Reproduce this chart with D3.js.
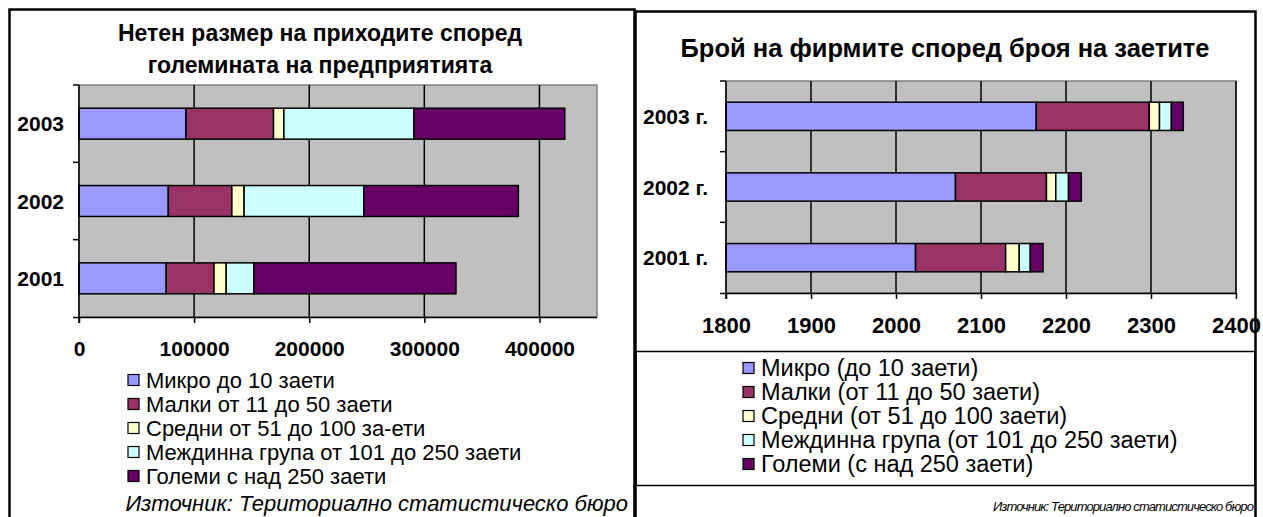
<!DOCTYPE html>
<html>
<head>
<meta charset="utf-8">
<script src="https://cdn.jsdelivr.net/npm/d3@7"></script>
<style>
  body { margin: 0; background: #fff; }
  svg { display: block; font-family: "Liberation Sans", Arial, sans-serif; }
</style>
</head>
<body>
<svg id="chart" width="1263" height="517"></svg>
<script>
// ---- data ----
const years = ["2003", "2002", "2001"];
const colors = ["#9999FF", "#993366", "#FFFFCC", "#CCFFFF", "#660066"];

// left: net revenue by enterprise size
const revenueLegend = ["Микро до 10 заети", "Малки от 11 до 50 заети", "Средни от 51 до 100 за-ети",
  "Междинна група от 101 до 250 заети", "Големи с над 250 заети"];
const revMicro  = [93000, 77600, 75800];
const revSmall  = [76000, 55200, 41500];
const revMedium = [9000, 10600, 10600];
const revMiddle = [113000, 104100, 24000];
const revLarge  = [131000, 134200, 175600];
const revTicks = [0, 100000, 200000, 300000, 400000];

// right: number of firms by employees
const firmYears = ["2003 г.", "2002 г.", "2001 г."];
const firmLegend = ["Микро (до 10 заети)", "Малки (от 11 до 50 заети)", "Средни (от 51 до 100 заети)",
  "Междинна група (от 101 до 250 заети)", "Големи (с над 250 заети)"];
const firmMicro  = [2165, 2070, 2023];
const firmSmall  = [133, 107, 106];
const firmMedium = [12, 11, 16];
const firmMiddle = [14, 15, 13];
const firmLarge  = [14, 15, 15];
const firmTicks = [1800, 1900, 2000, 2100, 2200, 2300, 2400];

const svg = d3.select("#chart");

function stackRows(cats, series) {
  return cats.map((c, i) => {
    let acc = 0;
    return { cat: c, segs: series.map((s, k) => { const x0 = acc; acc += s[i]; return { k: k, x0: x0, x1: acc }; }) };
  });
}

function drawBars(g, opt) {
  const x = d3.scaleLinear().domain(opt.domain).range([opt.left, opt.right]);
  const y = d3.scaleBand().domain(opt.cats).range([opt.top, opt.bottom]).paddingInner(0.6).paddingOuter(0.3);
  const yb = d3.scaleBand().domain(opt.cats).range([opt.top, opt.bottom]);

  // plot area
  g.append("rect")
    .attr("x", opt.left).attr("y", opt.top)
    .attr("width", opt.right - opt.left).attr("height", opt.bottom - opt.top)
    .attr("fill", "#C0C0C0").attr("stroke", "#808080").attr("stroke-width", 1.5);

  // gridlines
  g.selectAll("line.grid").data(opt.ticks.slice(1)).enter().append("line")
    .attr("class", "grid")
    .attr("x1", d => x(d)).attr("x2", d => x(d))
    .attr("y1", opt.top).attr("y2", opt.bottom)
    .attr("stroke", "#000").attr("stroke-width", 1.5);

  const rows = stackRows(opt.cats, opt.series);
  const clipX = d => Math.max(x(d), opt.left);
  g.selectAll("g.row").data(rows).enter().append("g")
    .attr("class", "row")
    .selectAll("rect").data(d => d.segs.map(s => Object.assign({ cat: d.cat }, s))).enter().append("rect")
    .attr("x", d => clipX(d.x0))
    .attr("y", d => y(d.cat))
    .attr("width", d => clipX(d.x1) - clipX(d.x0))
    .attr("height", y.bandwidth())
    .attr("fill", d => colors[d.k])
    .attr("stroke", "#000").attr("stroke-width", 1.5);

  // x axis
  const xAxis = d3.axisBottom(x).tickValues(opt.ticks).tickSize(6).tickSizeOuter(0).tickPadding(opt.tickPad).tickFormat(d3.format("d"));
  const gx = g.append("g").attr("transform", `translate(0,${opt.bottom})`).call(xAxis);
  gx.select(".domain").attr("stroke", "#000").attr("stroke-width", 1.5).attr("d", `M${opt.left - 6},0.5H${opt.right}`);
  gx.selectAll(".tick line").attr("stroke", "#000").attr("stroke-width", 1.5);
  gx.selectAll(".tick text").attr("font-size", opt.tickSize).attr("font-weight", "bold").attr("fill", "#000")
    .attr("font-family", "'Liberation Sans', Arial, sans-serif");

  // y axis
  g.append("line").attr("x1", opt.left).attr("x2", opt.left).attr("y1", opt.top).attr("y2", opt.bottom + 6)
    .attr("stroke", "#000").attr("stroke-width", 1.5);
  g.selectAll("line.ytick").data(opt.cats).enter().append("line")
    .attr("x1", opt.left - 6).attr("x2", opt.left)
    .attr("y1", d => yb(d)).attr("y2", d => yb(d))
    .attr("stroke", "#000").attr("stroke-width", 1.5);
  g.selectAll("text.ylab").data(opt.cats).enter().append("text")
    .attr("x", opt.labelX).attr("y", d => y(d) + y.bandwidth() / 2)
    .attr("dy", "0.36em").attr("text-anchor", "end")
    .attr("font-size", opt.labelSize).attr("font-weight", "bold")
    .text(d => d);
}

function drawLegend(g, labels, lx, ly, step, fs) {
  const item = g.selectAll("g.leg").data(labels).enter().append("g")
    .attr("transform", (d, i) => `translate(${lx},${ly + i * step})`);
  item.append("rect").attr("x", 0).attr("y", -5.5).attr("width", 11).attr("height", 11)
    .attr("fill", (d, i) => colors[i]).attr("stroke", "#000").attr("stroke-width", 1.2);
  item.append("text").attr("x", 18).attr("y", 0).attr("dy", "0.36em")
    .attr("font-size", fs).text(d => d);
}

// ---- left chart ----
const L = svg.append("g");
L.append("path").attr("d", "M9.5,517V9.5H634.5V517").attr("fill", "none").attr("stroke", "#000").attr("stroke-width", 2.5);
L.append("text").attr("x", 320).attr("y", 41).attr("text-anchor", "middle")
  .attr("font-size", 23).attr("font-weight", "bold").text("Нетен размер на приходите според");
L.append("text").attr("x", 320).attr("y", 73).attr("text-anchor", "middle")
  .attr("font-size", 23).attr("font-weight", "bold").text("големината на предприятията");
drawBars(L, {
  cats: years, series: [revMicro, revSmall, revMedium, revMiddle, revLarge],
  domain: [0, 450000], ticks: revTicks,
  left: 79, right: 597, top: 85, bottom: 317, labelX: 64, tickSize: 21, labelSize: 21, tickPad: 18
});
drawLegend(L, revenueLegend, 128, 380, 24, 22);
L.append("text").attr("x", 628).attr("y", 511).attr("text-anchor", "end")
  .attr("font-size", 22).attr("font-style", "italic").text("Източник: Териториално статистическо бюро");

// ---- right chart ----
const R = svg.append("g");
R.append("path").attr("d", "M635.5,517V11.5H1255.5V517").attr("fill", "none").attr("stroke", "#000").attr("stroke-width", 2.5);
R.append("text").attr("x", 945).attr("y", 57).attr("text-anchor", "middle")
  .attr("font-size", 25.5).attr("font-weight", "bold").text("Брой на фирмите според броя на заетите");
drawBars(R, {
  cats: firmYears, series: [firmMicro, firmSmall, firmMedium, firmMiddle, firmLarge],
  domain: [1800, 2400], ticks: firmTicks,
  left: 726, right: 1236, top: 81, bottom: 293, labelX: 708, tickSize: 22, labelSize: 21, tickPad: 18
});
R.append("rect").attr("x", 636).attr("y", 351.5).attr("width", 619).attr("height", 134)
  .attr("fill", "none").attr("stroke", "#000").attr("stroke-width", 1.5);
drawLegend(R, firmLegend, 743, 368, 24, 23.5);
R.append("text").attr("x", 1253).attr("y", 511).attr("text-anchor", "end")
  .attr("font-size", 13).attr("font-style", "italic").attr("letter-spacing", -0.9)
  .text("Източник: Териториално статистическо бюро");
</script>
</body>
</html>
